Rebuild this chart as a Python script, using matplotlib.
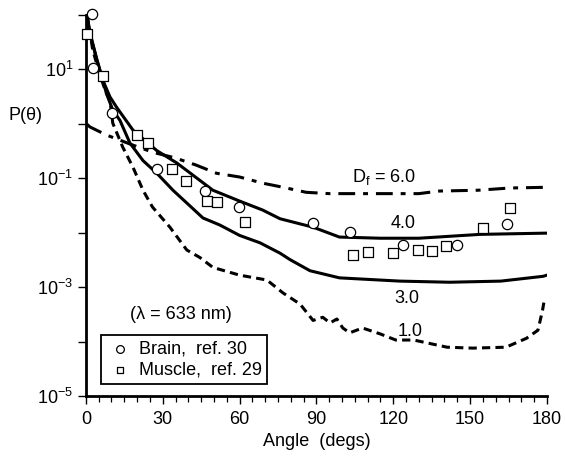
import matplotlib
matplotlib.use("Agg")
import matplotlib.pyplot as plt
from matplotlib.ticker import FixedLocator, MultipleLocator, NullLocator

plt.rcParams['font.family'] = ['Liberation Sans', 'DejaVu Sans']
plt.rcParams['mathtext.fontset'] = 'custom'
plt.rcParams['mathtext.rm'] = 'Liberation Sans'
plt.rcParams['mathtext.it'] = 'Liberation Sans:italic'

# ---- data ----
brain_angle = [2.3, 2.7, 10.2, 27.7, 46.5, 59.7, 88.6, 103.1, 123.8, 144.9, 164.4]
brain_P = [105, 10.5, 1.55, 0.15, 0.058, 0.030, 0.0148, 0.0102, 0.0059, 0.0059, 0.0145]

muscle_angle = [0.3, 6.6, 19.9, 24.2, 33.6, 39.0, 47.3, 51.2, 62.1, 104.3, 110.1,
                119.9, 129.6, 135.1, 140.6, 155.0, 165.6]
muscle_P = [44, 7.4, 0.62, 0.44, 0.148, 0.087, 0.038, 0.036, 0.016, 0.0039, 0.0044,
            0.0042, 0.0049, 0.0047, 0.0056, 0.012, 0.028]

d40_angle = [0.4, 1.6, 4.3, 6.6, 9.4, 12, 18.4, 27.7, 35.5, 44.5, 49.6, 60, 69, 75.8,
             83.6, 88.7, 99, 115, 130, 154, 180]
d40_P = [100, 45.7, 14.8, 6.3, 3.1, 2.0, 0.76, 0.32, 0.19, 0.091, 0.060, 0.038, 0.026,
         0.018, 0.0145, 0.0126, 0.0083, 0.0079, 0.0079, 0.0093, 0.0098]

d30_angle = [0.4, 1.6, 4.3, 6.6, 8, 10.5, 13.3, 17.2, 22.3, 27.7, 34, 39.4, 45.7, 52.3,
             60, 68, 75.8, 79.7, 87.5, 99, 122.6, 142, 162, 178.5, 180]
d30_P = [100, 45.7, 14.8, 6.3, 3.6, 1.78, 1.15, 0.44, 0.21, 0.123, 0.060, 0.035, 0.0186,
         0.0138, 0.0089, 0.0065, 0.0042, 0.0032, 0.0020, 0.00148, 0.00129, 0.00123,
         0.00129, 0.00158, 0.00166]

d10_angle = [0.4, 2.7, 5.5, 7.8, 9.4, 10.5, 14.4, 18.4, 22.3, 26, 32.8, 39.4, 44.5, 49.6,
             60, 70.7, 77, 83.6, 88.7, 92.5, 95.3, 98, 100.3, 103, 108, 115, 121, 128,
             141, 151, 164, 172, 176.5, 178.3, 178.8]
d10_P = [100, 22.4, 7.8, 3.8, 2.7, 1.02, 0.37, 0.158, 0.060, 0.0295, 0.0126, 0.0048,
         0.0035, 0.0023, 0.00166, 0.00135, 0.00078, 0.00049, 0.000245, 0.00028, 0.00022,
         0.00026, 0.000178, 0.000145, 0.000178, 0.000138, 0.000107, 0.000107, 0.000079,
         0.000076, 0.000079, 0.000115, 0.000162, 0.00038, 0.00052]

d60_angle = [0.4, 1.6, 8, 18, 26, 35, 43, 51, 60, 69, 77, 86, 95, 112, 130, 138, 153,
             165.6, 180]
d60_P = [0.98, 0.87, 0.62, 0.41, 0.30, 0.234, 0.174, 0.123, 0.105, 0.081, 0.068, 0.055,
         0.052, 0.052, 0.052, 0.058, 0.060, 0.066, 0.068]

x_ticks = [0, 30, 60, 90, 120, 150, 180]
y_ticks = [1e-5, 1e-4, 1e-3, 1e-2, 1e-1, 1e0, 1e1, 1e2]
y_labels = [r'$\mathregular{10^{-5}}$', '', r'$\mathregular{10^{-3}}$', '',
            r'$\mathregular{10^{-1}}$', '', r'$\mathregular{10^{1}}$', '']

FS = 13

# ---- figure ----
fig = plt.figure(figsize=(5.65, 4.59), dpi=100)
ax = fig.add_axes([0.152, 0.137, 0.816, 0.831])

lw = 2.2
ax.plot(d60_angle, d60_P, color='black', lw=lw, linestyle=(0, (5.5, 2.6, 1.6, 2.6)))
ax.plot(d40_angle, d40_P, color='black', lw=lw, solid_capstyle='round')
ax.plot(d30_angle, d30_P, color='black', lw=lw, solid_capstyle='round')
ax.plot(d10_angle, d10_P, color='black', lw=lw, linestyle=(0, (2.7, 1.7)))

brain = ax.scatter(brain_angle, brain_P, s=55, facecolors='white', edgecolors='black',
                   linewidths=0.9, marker='o', zorder=5, clip_on=False)
muscle = ax.scatter(muscle_angle, muscle_P, s=45, facecolors='white', edgecolors='black',
                    linewidths=0.9, marker='s', zorder=5, clip_on=False)

ax.set_yscale('log')
ax.set_xlim(0, 180)
ax.set_ylim(1e-5, 1e2)

ax.xaxis.set_major_locator(FixedLocator(x_ticks))
ax.xaxis.set_minor_locator(MultipleLocator(5))
ax.yaxis.set_major_locator(FixedLocator(y_ticks))
ax.yaxis.set_minor_locator(NullLocator())
ax.set_yticklabels(y_labels)

ax.tick_params(axis='both', which='major', direction='out', length=6, width=1.0,
               labelsize=FS, colors='black')
ax.tick_params(axis='x', which='minor', direction='out', length=4, width=0.9)
ax.tick_params(axis='x', which='major', pad=5)
ax.tick_params(axis='y', which='major', pad=3)

for side in ['top', 'right']:
    ax.spines[side].set_visible(False)
for side in ['left', 'bottom']:
    ax.spines[side].set_linewidth(2.0)

ax.set_xlabel('Angle  (degs)', fontsize=FS, labelpad=3)
fig.text(0.046, 0.749, 'P(θ)', fontsize=FS, ha='center', va='center')

ax.text(103.9, 0.085, r'D$_\mathregular{f}$ = 6.0', fontsize=FS, ha='left', va='baseline')
ax.text(123.8, 0.0145, '4.0', fontsize=FS, ha='center', va='center')
ax.text(125.3, 0.00063, '3.0', fontsize=FS, ha='center', va='center')
ax.text(126.5, 0.000155, '1.0', fontsize=FS, ha='center', va='center')
ax.text(37, 0.00032, '(λ = 633 nm)', fontsize=FS, ha='center', va='center')

leg = ax.legend(handles=[brain, muscle], labels=['Brain,  ref. 30', 'Muscle,  ref. 29'],
                loc='lower left', bbox_to_anchor=(0.0325, 0.031), borderaxespad=0,
                fancybox=False, framealpha=1, edgecolor='black', fontsize=FS,
                markerscale=0.75, handletextpad=0.3, handlelength=1.5,
                borderpad=0.3, labelspacing=0.25)
leg.get_frame().set_linewidth(1.3)

fig.savefig('out.png', dpi=100)
